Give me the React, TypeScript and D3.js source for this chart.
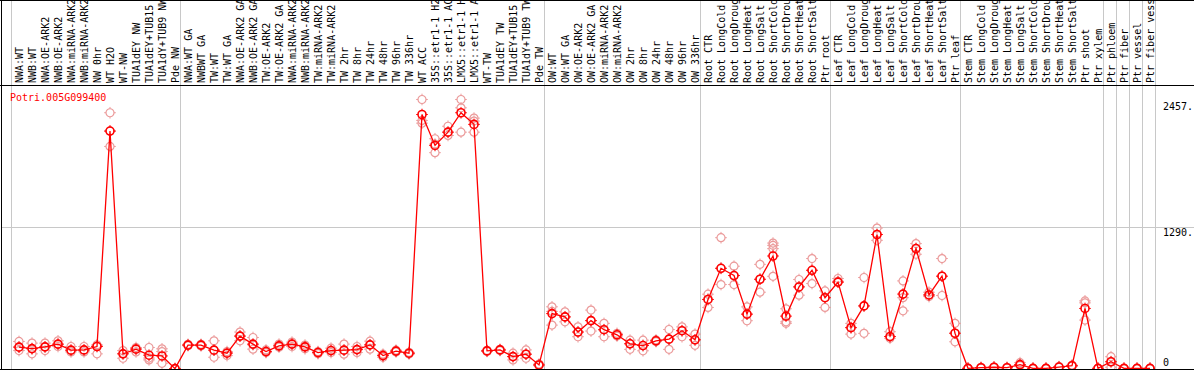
import * as d3 from "d3";

const geneId = "Potri.005G099400";

const categories = [
  "NWA:WT", "NWB:WT", "NWA:OE-ARK2", "NWB:OE-ARK2", "NWA:miRNA-ARK2", "NWB:miRNA-ARK2", "NW 0hr",
  "WT H2O", "WT-NW", "TUA1dEY NW", "TUA1dEY+TUB15", "TUA1dY+TUB9 NW", "Pde NW",
  "NWA:WT GA", "NWBWT GA", "TW:WT", "TW:WT GA", "NWA:OE-ARK2 GA", "NWB:OE-ARK2 GA", "TW:OE-ARK2",
  "TW:OE-ARK2 GA", "NWA:miRNA-ARK2", "NWB:miRNA-ARK2", "TW:miRNA-ARK2", "TW:miRNA-ARK2",
  "TW 2hr", "TW 8hr", "TW 24hr", "TW 48hr", "TW 96hr", "TW 336hr", "WT ACC",
  "35S::etr1-1 H2", "35S::etr1-1 AC", "LMX5::etr1-1 H", "LMX5::etr1-1 A",
  "WT-TW", "TUA1dEY TW", "TUA1dEY+TUB15", "TUA1dY+TUB9 TW", "Pde TW",
  "OW:WT", "OW:WT GA", "OW:OE-ARK2", "OW:OE-ARK2 GA", "OW:miRNA-ARK2", "OW:miRNA-ARK2",
  "OW 2hr", "OW 8hr", "OW 24hr", "OW 48hr", "OW 96hr", "OW 336hr",
  "Root CTR", "Root LongCold", "Root LongDroug", "Root LongHeat", "Root LongSalt",
  "Root ShortCold", "Root ShortDrou", "Root ShortHeat", "Root ShortSalt", "Ptr root",
  "Leaf CTR", "Leaf LongCold", "Leaf LongDroug", "Leaf LongHeat", "Leaf LongSalt",
  "Leaf ShortCold", "Leaf ShortDrou", "Leaf ShortHeat", "Leaf ShortSalt", "Ptr leaf",
  "Stem CTR", "Stem LongCold", "Stem LongDroug", "Stem LongHeat", "Stem LongSalt",
  "Stem ShortCold", "Stem ShortDrou", "Stem ShortHeat", "Stem ShortSalt", "Ptr shoot", "Ptr xylem",
  "Ptr phloem", "Ptr fiber", "Ptr vessel", "Ptr fiber vess",
];

// mean expression per sample
const means = [
  199, 186, 202, 227, 172, 174, 205, 2169, 138, 181, 126, 119, 3,
  218, 218, 172, 144, 300, 227, 159, 211, 227, 202, 150, 168, 172, 177, 220, 122, 163, 144,
  2320, 2038, 2159, 2336, 2230, 165, 174, 113, 135, 37,
  505, 475, 337, 441, 358, 312, 230, 214, 257, 272, 349, 266,
  634, 918, 852, 500, 818, 1030, 482, 748, 900, 650,
  792, 377, 575, 1226, 296, 683, 1098, 675, 846, 326,
  6, 12, 16, 12, 40, 6, 6, 18, 30, 552, 6,
  66, 6, 6, 6,
];

// replicate values per sample
const replicates = [
  [251, 168, 202], [236, 138, 184], [236, 168, 200], [257, 205, 225], [205, 156, 170],
  [205, 156, 172], [220, 138, 210], [2336, 2029, 2169], [98, 168, 140], [196, 156, 185],
  [196, 83, 100], [184, 52, 159], [3, 3, 3],
  [218, 212, 225], [225, 210, 218], [257, 107, 172], [159, 122, 150], [337, 257, 300],
  [287, 181, 220], [174, 150, 159], [227, 199, 211], [245, 205, 227], [218, 184, 202],
  [159, 140, 150], [190, 150, 168], [227, 135, 172], [205, 150, 177], [254, 181, 220],
  [135, 107, 122], [172, 155, 163], [152, 136, 144],
  [2457, 2241, 2266], [2099, 1972, 2050], [2213, 2129, 2159], [2457, 2381, 2159], [2287, 2159, 2260],
  [170, 160, 165], [180, 168, 174], [144, 83, 113], [174, 98, 135], [45, 30, 37],
  [567, 400, 525], [521, 430, 475], [384, 294, 337], [537, 346, 441], [416, 294, 358],
  [325, 300, 312], [263, 179, 230], [263, 166, 214], [265, 250, 257], [360, 179, 272],
  [384, 294, 349], [318, 216, 266],
  [682, 561, 634], [1197, 770, 918], [937, 770, 852], [566, 440, 500], [954, 700, 818],
  [1148, 1127, 1097, 845], [549, 430, 416], [816, 673, 750], [1007, 779, 900], [712, 561, 650],
  [825, 792, 800], [416, 318, 377], [834, 325, 575], [1285, 1173, 1226], [340, 280, 296],
  [803, 530, 650], [1143, 1046, 1098], [700, 660, 675], [1007, 670, 846], [416, 248, 326],
  [6, 6, 6], [12, 10, 14], [16, 12, 18], [12, 10, 14], [58, 40, 30],
  [6, 6, 6], [6, 6, 6], [18, 14, 22], [30, 25, 35], [621, 603, 446], [6, 6, 6],
  [112, 16, 67], [6, 6, 6], [6, 6, 6], [6, 6, 6],
];

// sample index where each vertical separator sits
const groupBreaks = [0, 13, 41, 53, 63, 73, 84, 85, 86, 87, 88];

const width = 1194;
const height = 370;
const mono = "'DejaVu Sans Mono', 'Liberation Mono', monospace";

const Marker = ({ x, y, color, sw }: { x: number; y: number; color: string; sw: number }) => (
  <g transform={`translate(${x},${y})`} stroke={color} fill="none" strokeWidth={sw}>
    <circle r={4} />
    <path d="M0,-4V-5.8M0,4V5.8M-4,0H-5.8M4,0H5.8" strokeWidth={1} />
  </g>
);

const App = () => {
  const n = categories.length;
  const x = d3.scaleBand<number>().domain(d3.range(n)).range([12.5, 12.5 + 13 * n]);
  const cx = (i: number) => (x(i) ?? 0) + x.bandwidth() / 2;
  const sepX = (b: number) => 12.5 + 13 * b - 1.5;

  const maxVal = d3.max(replicates.flat()) ?? 0;
  const yMax = maxVal * 1.05;
  const y = d3.scaleLinear().domain([0, yMax]).range([369, 86]);

  const line = d3.line<number>().x((_, i) => cx(i)).y((d) => y(d));

  const yLabels = [
    { v: maxVal, text: `${Math.round(maxVal)}.`, dy: 11 },
    { v: yMax / 2, text: `${Math.round(yMax / 2)}.`, dy: 8.5 },
    { v: 0, text: "0", dy: -3 },
  ];

  return (
    <svg width={width} height={height} style={{ position: "absolute", left: 0, top: 0, background: "#fff" }}>
      <defs>
        <clipPath id="plot">
          <rect x={2} y={86} width={1153} height={283} />
        </clipPath>
      </defs>

      {/* vertical separators */}
      {groupBreaks.map((b) => (
        <line key={b} x1={sepX(b)} x2={sepX(b)} y1={0} y2={369}
          stroke="#c8c8c8" strokeWidth={1} shapeRendering="crispEdges" />
      ))}

      {/* midline */}
      <line x1={1} x2={width} y1={y(yMax / 2)} y2={y(yMax / 2)} stroke="#c8c8c8" shapeRendering="crispEdges" />

      {/* sample labels */}
      {categories.map((c, i) => (
        <text key={i} transform={`translate(${cx(i) + 3.5},83) rotate(-90)`}
          fontFamily={mono} fontSize={10} fill="#000">{c}</text>
      ))}

      <text x={10} y={101} fontFamily={mono} fontSize={10} fill="#ff0000">{geneId}</text>

      <g clipPath="url(#plot)">
        {replicates.map((reps, i) =>
          reps.map((r, j) => <Marker key={`${i}-${j}`} x={cx(i)} y={y(r)} color="#eb9a9a" sw={1.2} />)
        )}
        <path d={line(means) ?? ""} fill="none" stroke="#ff0000" strokeWidth={1.3} />
        {means.map((m, i) => (
          <Marker key={i} x={cx(i)} y={y(m)} color="#ff0000" sw={1.6} />
        ))}
      </g>

      {yLabels.map((t) => (
        <text key={t.text} x={1163} y={y(t.v) + t.dy} fontFamily={mono} fontSize={10} fill="#000">{t.text}</text>
      ))}

      {/* frame */}
      <line x1={0} x2={width} y1={0.5} y2={0.5} stroke="#000" />
      <line x1={0} x2={width} y1={85.5} y2={85.5} stroke="#000" />
      <line x1={0} x2={width} y1={369.5} y2={369.5} stroke="#000" />
      <line x1={1.5} x2={1.5} y1={0} y2={370} stroke="#000" />
    </svg>
  );
};

export default App;
